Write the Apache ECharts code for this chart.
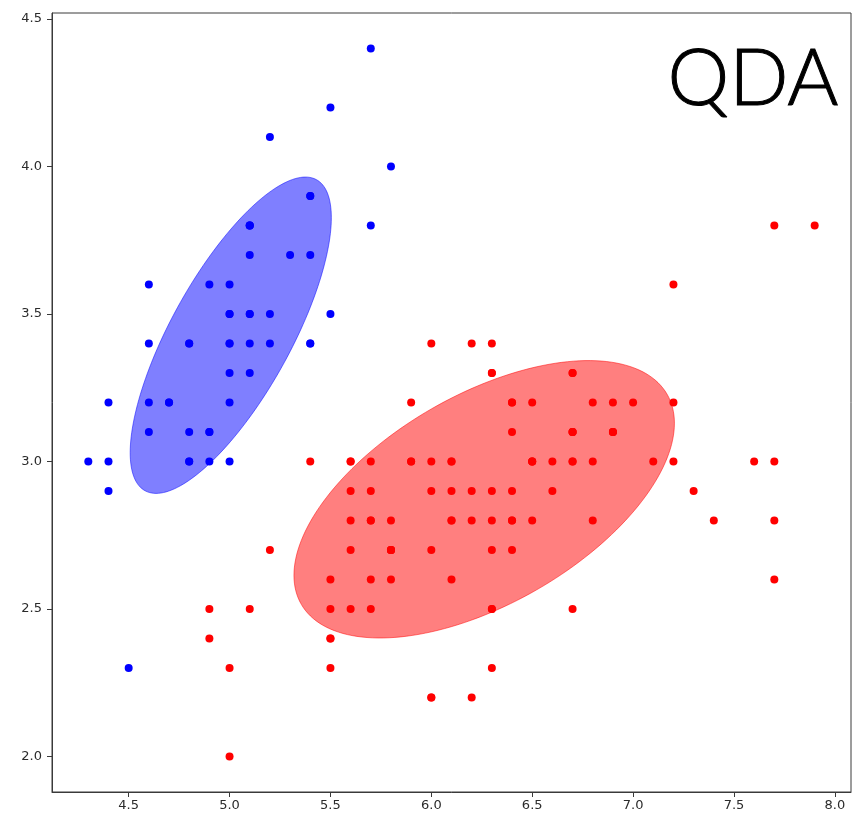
<!DOCTYPE html>
<html>
<head>
<meta charset="utf-8">
<title>QDA</title>
<script src="https://cdn.jsdelivr.net/npm/echarts@6/dist/echarts.min.js"></script>
<style>
  html, body { margin: 0; padding: 0; background: #ffffff; }
  #chart { width: 859px; height: 814px; }
</style>
</head>
<body>
<div id="chart"></div>
<script>
// Iris sepal measurements: [sepal length, sepal width]
var setosaPoints = [
  [5.1,3.5],[4.9,3.0],[4.7,3.2],[4.6,3.1],[5.0,3.6],[5.4,3.9],[4.6,3.4],[5.0,3.4],[4.4,2.9],[4.9,3.1],
  [5.4,3.7],[4.8,3.4],[4.8,3.0],[4.3,3.0],[5.8,4.0],[5.7,4.4],[5.4,3.9],[5.1,3.5],[5.7,3.8],[5.1,3.8],
  [5.4,3.4],[5.1,3.7],[4.6,3.6],[5.1,3.3],[4.8,3.4],[5.0,3.0],[5.0,3.4],[5.2,3.5],[5.2,3.4],[4.7,3.2],
  [4.8,3.1],[5.4,3.4],[5.2,4.1],[5.5,4.2],[4.9,3.1],[5.0,3.2],[5.5,3.5],[4.9,3.6],[4.4,3.0],[5.1,3.4],
  [5.0,3.5],[4.5,2.3],[4.4,3.2],[5.0,3.5],[5.1,3.8],[4.8,3.0],[5.1,3.8],[4.6,3.2],[5.3,3.7],[5.0,3.3]
];
var otherPoints = [
  [7.0,3.2],[6.4,3.2],[6.9,3.1],[5.5,2.3],[6.5,2.8],[5.7,2.8],[6.3,3.3],[4.9,2.4],[6.6,2.9],[5.2,2.7],
  [5.0,2.0],[5.9,3.0],[6.0,2.2],[6.1,2.9],[5.6,2.9],[6.7,3.1],[5.6,3.0],[5.8,2.7],[6.2,2.2],[5.6,2.5],
  [5.9,3.2],[6.1,2.8],[6.3,2.5],[6.1,2.8],[6.4,2.9],[6.6,3.0],[6.8,2.8],[6.7,3.0],[6.0,2.9],[5.7,2.6],
  [5.5,2.4],[5.5,2.4],[5.8,2.7],[6.0,2.7],[5.4,3.0],[6.0,3.4],[6.7,3.1],[6.3,2.3],[5.6,3.0],[5.5,2.5],
  [5.5,2.6],[6.1,3.0],[5.8,2.6],[5.0,2.3],[5.6,2.7],[5.7,3.0],[5.7,2.9],[6.2,2.9],[5.1,2.5],[5.7,2.8],
  [6.3,3.3],[5.8,2.7],[7.1,3.0],[6.3,2.9],[6.5,3.0],[7.6,3.0],[4.9,2.5],[7.3,2.9],[6.7,2.5],[7.2,3.6],
  [6.5,3.2],[6.4,2.7],[6.8,3.0],[5.7,2.5],[5.8,2.8],[6.4,3.2],[6.5,3.0],[7.7,3.8],[7.7,2.6],[6.0,2.2],
  [6.9,3.2],[5.6,2.8],[7.7,2.8],[6.3,2.7],[6.7,3.3],[7.2,3.2],[6.2,2.8],[6.1,3.0],[6.4,2.8],[7.2,3.0],
  [7.4,2.8],[7.9,3.8],[6.4,2.8],[6.3,2.8],[6.1,2.6],[7.7,3.0],[6.3,3.4],[6.4,3.1],[6.0,3.0],[6.9,3.1],
  [6.7,3.1],[6.9,3.1],[5.8,2.7],[6.8,3.2],[6.7,3.3],[6.7,3.0],[6.3,2.5],[6.5,3.0],[6.2,3.4],[5.9,3.0]
];

// Class ellipses: centre and spread matrix [[sxx, sxy], [sxy, syy]] in data units
var ellipseCenters = [[5.006, 3.428], [6.262, 2.872]];
var ellipseSpreads = [
  [0.2485, 0.1984, 0.2874],
  [0.889, 0.243, 0.221]
];
var ellipseColors = ['rgba(0,0,255,0.5)', 'rgba(255,0,0,0.5)'];

var xTicks = [4.5, 5.0, 5.5, 6.0, 6.5, 7.0, 7.5, 8.0];
var yTicks = [2.0, 2.5, 3.0, 3.5, 4.0, 4.5];
var xRange = [4.12, 8.08];
var yRange = [1.88, 4.52];

var chart = echarts.init(document.getElementById('chart'), null, { renderer: 'canvas' });

// Ellipse outline traced in data space, then mapped through the axes
function ellipseItem(params, api) {
  var i = params.dataIndex;
  var c = ellipseCenters[i];
  var s = ellipseSpreads[i];
  var l11 = Math.sqrt(s[0]);
  var l21 = s[1] / l11;
  var l22 = Math.sqrt(s[2] - l21 * l21);
  var pts = [];
  var n = 180;
  for (var k = 0; k < n; k++) {
    var t = 2 * Math.PI * k / n;
    var ct = Math.cos(t), st = Math.sin(t);
    pts.push(api.coord([c[0] + l11 * ct, c[1] + l21 * ct + l22 * st]));
  }
  return {
    type: 'polygon',
    shape: { points: pts },
    style: { fill: ellipseColors[i], stroke: ellipseColors[i], lineWidth: 1 }
  };
}

var axisText = { color: '#2b2b2b', fontFamily: 'DejaVu Sans', fontSize: 13 };

chart.setOption({
  backgroundColor: '#ffffff',
  animation: false,
  grid: {
    left: 52, right: 8, top: 13, bottom: 22,
    show: true, borderColor: '#3a3a3a', borderWidth: 1, backgroundColor: 'transparent'
  },
  xAxis: {
    type: 'value', min: xRange[0], max: xRange[1],
    splitLine: { show: false },
    axisLine: { show: true, onZero: false, lineStyle: { color: '#3a3a3a' } },
    axisTick: { show: true, length: 5, customValues: xTicks, lineStyle: { color: '#3a3a3a' } },
    axisLabel: Object.assign({ margin: 7, customValues: xTicks,
      formatter: function (v) { return v.toFixed(1); } }, axisText)
  },
  yAxis: {
    type: 'value', min: yRange[0], max: yRange[1],
    splitLine: { show: false },
    axisLine: { show: true, onZero: false, lineStyle: { color: '#3a3a3a' } },
    axisTick: { show: true, length: 5, customValues: yTicks, lineStyle: { color: '#3a3a3a' } },
    axisLabel: Object.assign({ margin: 10, customValues: yTicks,
      formatter: function (v) { return v.toFixed(1); } }, axisText)
  },
  graphic: [{
    type: 'text',
    right: 20, top: 40,
    style: {
      text: 'QDA',
      fill: '#000000',
      stroke: '#000000',
      lineWidth: 1,
      font: '300 78px Lato'
    },
    z: 100
  }],
  series: [
    {
      type: 'custom',
      renderItem: ellipseItem,
      data: [0, 1],
      z: 1,
      silent: true
    },
    {
      name: 'setosa', type: 'scatter', data: setosaPoints,
      symbolSize: 8, itemStyle: { color: '#0000ff', opacity: 1 }, z: 3
    },
    {
      name: 'other', type: 'scatter', data: otherPoints,
      symbolSize: 8, itemStyle: { color: '#ff0000', opacity: 1 }, z: 3
    }
  ]
});
</script>
</body>
</html>
